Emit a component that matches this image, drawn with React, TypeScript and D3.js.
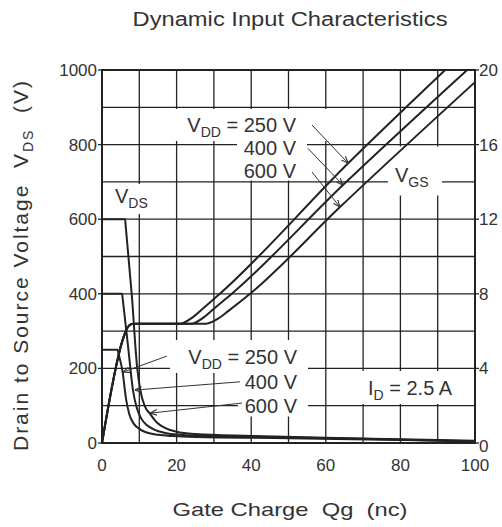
import React from 'react';
import * as d3 from 'd3';

// ---- data ----
const qTicks = [0, 20, 40, 60, 80, 100];
const vdsTicks = [0, 200, 400, 600, 800, 1000];
const vgsTicks = [0, 4, 8, 12, 16, 20];
const vddLevels = ['250 V', '400 V', '600 V'];

// Gate-source voltage curves [Qg (nC), VGS (V)]
const vgs250 = [[0, 0], [5.5, 5.5], [6.6, 6.1], [8, 6.38], [9.5, 6.4], [21, 6.4], [24, 6.7], [27, 7.2], [31.6, 8], [66, 15], [92, 20]];
const vgs400 = [[0, 0], [5.5, 5.5], [6.6, 6.1], [8, 6.38], [9.5, 6.4], [24, 6.4], [27, 6.7], [30, 7.2], [34.8, 8], [64.6, 13.83], [97.9, 20]];
const vgs600 = [[0, 0], [5.5, 5.5], [6.6, 6.1], [8, 6.38], [9.5, 6.4], [28, 6.4], [31, 6.65], [34, 7.1], [39.7, 8], [63.8, 12.65], [100, 19.35]];

// Drain-source voltage curves [Qg (nC), VDS (V)]
const vds250 = [[0, 250], [4.2, 250], [4.35, 243], [5.5, 192], [6.5, 115], [7.3, 78], [8.5, 52], [10, 38], [12, 28], [15, 22], [19, 18.5], [25, 16], [50, 13], [80, 8], [100, 4]];
const vds400 = [[0, 400], [5.4, 400], [5.55, 387], [7, 258], [8.3, 142], [9.3, 95], [10.5, 66], [12, 48], [14, 36], [17, 27], [21, 22], [30, 18], [50, 15], [80, 9], [100, 5]];
const vds600 = [[0, 600], [6.2, 600], [6.35, 582], [8, 395], [9.4, 205], [10.3, 140], [11.5, 98], [12.9, 78], [14.7, 55], [17, 40], [20, 30], [25, 24], [40, 19], [60, 14], [80, 10], [100, 6]];

// annotation arrows: [fromQ, fromV, toQ, toV]
const vgsArrows = [[56.3, 17.05, 66, 15.0], [55.2, 15.8, 64.6, 13.83], [56.3, 14.53, 63.8, 12.65]];
const vdsArrows = [[17.4, 233, 5.6, 190], [37, 164, 8.8, 142], [37.5, 107, 12.9, 80]];

const FONT = "'Liberation Sans', Arial, Helvetica, sans-serif";
const INK = '#222';
const TXT = '#333';

export default function App() {
  const W = 502, H = 527;
  const L = 102, R = 475, T = 70, B = 443;
  const x = d3.scaleLinear().domain([0, 100]).range([L, R]);
  const yL = d3.scaleLinear().domain([0, 1000]).range([B, T]);
  const yR = d3.scaleLinear().domain([0, 20]).range([B, T]);
  const gridX = x.ticks(10).filter(v => v > 0 && v < 100);
  const gridY = yL.ticks(10).filter(v => v > 0 && v < 1000);

  const lineR = d3.line<number[]>().x(d => x(d[0])).y(d => yR(d[1])).curve(d3.curveMonotoneX);
  const lineL = d3.line<number[]>().x(d => x(d[0])).y(d => yL(d[1])).curve(d3.curveMonotoneX);

  // white boxes behind labels (interrupt grid)
  const masks = [
    [175, 109, 155, 32],
    [237, 141, 70, 39.5],
    [112, 184, 40, 30],
    [388, 146.5, 54, 49],
    [170, 340, 138, 33],
    [238, 373, 70, 43.5],
    [362, 371, 100, 33],
  ];

  return (
    <svg width={W} height={H} style={{ position: 'absolute', left: 0, top: 0, background: '#fff' }} fontFamily={FONT}>
      <defs>
        <marker id="ah" viewBox="0 0 10 10" refX="10" refY="5" markerWidth="7" markerHeight="7" orient="auto-start-reverse" markerUnits="userSpaceOnUse">
          <path d="M0,1 L10,5 L0,9" fill="none" stroke={TXT} strokeWidth={1.6} />
        </marker>
      </defs>
      <rect x={0} y={0} width={W} height={H} fill="#fff" />

      {/* title */}
      <text x={290} y={26} textAnchor="middle" fontSize={20} fill={TXT} textLength={315} lengthAdjust="spacingAndGlyphs">Dynamic Input Characteristics</text>

      {/* grid */}
      {gridX.map(v => (
        <line key={'gx' + v} x1={x(v)} x2={x(v)} y1={T} y2={B} stroke={INK} strokeWidth={1.3} />
      ))}
      {gridY.map(v => (
        <line key={'gy' + v} x1={L} x2={R} y1={yL(v)} y2={yL(v)} stroke={INK} strokeWidth={1.3} />
      ))}
      {masks.map((m, i) => (
        <rect key={'m' + i} x={m[0]} y={m[1]} width={m[2]} height={m[3]} fill="#fff" />
      ))}

      {/* frame */}
      <rect x={L} y={T} width={R - L} height={B - T} fill="none" stroke={INK} strokeWidth={2} />

      {/* tick marks */}
      {vdsTicks.map(v => (
        <line key={'tl' + v} x1={L - 4} x2={L} y1={yL(v)} y2={yL(v)} stroke={INK} strokeWidth={1.3} />
      ))}
      {vgsTicks.map(v => (
        <line key={'tr' + v} x1={R} x2={R + 4} y1={yR(v)} y2={yR(v)} stroke={INK} strokeWidth={1.3} />
      ))}

      {/* curves */}
      {[vds250, vds400, vds600].map((d, i) => (
        <path key={'vds' + i} d={lineL(d) || ''} fill="none" stroke={INK} strokeWidth={2} />
      ))}
      {[vgs250, vgs400, vgs600].map((d, i) => (
        <path key={'vgs' + i} d={lineR(d) || ''} fill="none" stroke={INK} strokeWidth={2} />
      ))}

      {/* arrows */}
      {vgsArrows.map((a, i) => (
        <line key={'ag' + i} x1={x(a[0])} y1={yR(a[1])} x2={x(a[2])} y2={yR(a[3])} stroke={TXT} strokeWidth={1} markerEnd="url(#ah)" />
      ))}
      {vdsArrows.map((a, i) => (
        <line key={'ad' + i} x1={x(a[0])} y1={yL(a[1])} x2={x(a[2])} y2={yL(a[3])} stroke={TXT} strokeWidth={1} markerEnd="url(#ah)" />
      ))}

      {/* axis tick labels */}
      {vdsTicks.map(v => (
        <text key={'ll' + v} x={L - 5} y={yL(v) + 6} textAnchor="end" fontSize={17} fill={TXT}>{v}</text>
      ))}
      {vgsTicks.map(v => (
        <text key={'rl' + v} x={R + 4} y={yR(v) + 6 + (v === 0 ? 3 : 0)} textAnchor="start" fontSize={17} fill={TXT}>{v}</text>
      ))}
      {qTicks.map(v => (
        <text key={'bl' + v} x={x(v)} y={471} textAnchor="middle" fontSize={17} fill={TXT}>{v}</text>
      ))}

      {/* axis titles */}
      <text x={290} y={516} textAnchor="middle" fontSize={19} fill={TXT} style={{ whiteSpace: 'pre' }} textLength={235} lengthAdjust="spacingAndGlyphs">{'Gate Charge  Qg  (nc)'}</text>
      <text transform={`translate(28,${266}) rotate(-90)`} textAnchor="middle" fontSize={21} fill={TXT} style={{ whiteSpace: 'pre' }} textLength={370} lengthAdjust="spacing">
        <tspan>{'Drain to Source Voltage  V'}</tspan>
        <tspan fontSize={14} dy={5}>DS</tspan>
        <tspan dy={-5}>{'  (V)'}</tspan>
      </text>

      {/* in-plot labels: upper VDD block */}
      <text x={296} y={132} textAnchor="end" fontSize={20} fill={TXT} style={{ whiteSpace: 'pre' }}>
        <tspan>V</tspan><tspan fontSize={14} dy={5}>DD</tspan><tspan dy={-5}>{' = ' + vddLevels[0]}</tspan>
      </text>
      <text x={296} y={155} textAnchor="end" fontSize={20} fill={TXT}>{vddLevels[1]}</text>
      <text x={296} y={178} textAnchor="end" fontSize={20} fill={TXT}>{vddLevels[2]}</text>

      {/* lower VDD block */}
      <text x={297} y={364} textAnchor="end" fontSize={20} fill={TXT} style={{ whiteSpace: 'pre' }}>
        <tspan>V</tspan><tspan fontSize={14} dy={5}>DD</tspan><tspan dy={-5}>{' = ' + vddLevels[0]}</tspan>
      </text>
      <text x={297} y={389} textAnchor="end" fontSize={20} fill={TXT}>{vddLevels[1]}</text>
      <text x={297} y={413} textAnchor="end" fontSize={20} fill={TXT}>{vddLevels[2]}</text>

      {/* VDS / VGS / ID labels */}
      <text x={115} y={203} fontSize={20} fill={TXT}>
        <tspan>V</tspan><tspan fontSize={14} dy={5}>DS</tspan>
      </text>
      <text x={395} y={182} fontSize={20} fill={TXT}>
        <tspan>V</tspan><tspan fontSize={14} dy={5}>GS</tspan>
      </text>
      <text x={368} y={395} fontSize={20} fill={TXT} style={{ whiteSpace: 'pre' }}>
        <tspan>I</tspan><tspan fontSize={14} dy={5}>D</tspan><tspan dy={-5}>{' = 2.5 A'}</tspan>
      </text>
    </svg>
  );
}
